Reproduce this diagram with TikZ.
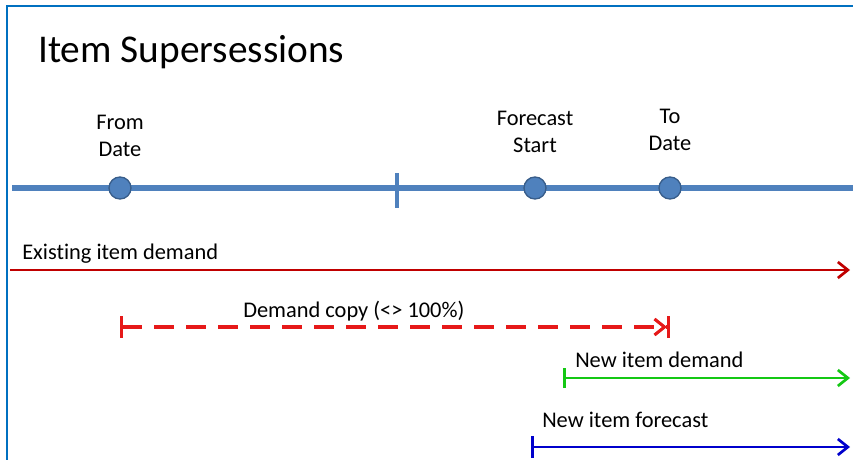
\documentclass[tikz,border=0pt]{standalone}
\usepackage{fontspec}
\setmainfont[Ligatures=NoCommon]{Carlito}
\usetikzlibrary{arrows.meta}
\definecolor{framebl}{RGB}{0,112,192}
\definecolor{tlblue}{RGB}{79,129,189}
\definecolor{tldark}{RGB}{56,93,138}
\definecolor{exred}{RGB}{192,0,0}
\definecolor{cpred}{RGB}{230,25,25}
\definecolor{nwgreen}{RGB}{20,200,20}
\definecolor{fcblue}{RGB}{0,0,204}

\begin{document}
\begin{tikzpicture}[x=.75pt,y=-.75pt,
    lbl/.style={font=\fontsize{16.8}{20.2}\selectfont,inner sep=0pt},
    datept/.style={circle,fill=tlblue,draw=tldark,line width=1pt,minimum size=16.5pt,inner sep=0pt},
    span/.style={line width=2pt},
    tip/.style={-{Straight Barb[length=7.5pt,width=12pt]}}]
    \useasboundingbox (0,0) rectangle (853,460);
    \fill[white] (0,0) rectangle (853,460);
    \draw[framebl,line width=1.5pt] (7,461) -- (7,6) -- (854,6);
    \node[font=\fontsize{29.5}{35}\selectfont,anchor=base west,inner sep=0pt] (title) at (38,63) {Item Supersessions};

    % timeline
    \coordinate (tlL) at (12,188); \coordinate (tlR) at (853,188);
    \draw[tlblue,line width=4.2pt] (tlL) -- (tlR);
    \coordinate (tickT) at (397,173); \coordinate (tickB) at (397,208);
    \draw[tlblue,line width=3pt] (tickT) -- (tickB);
    \node[datept] (from) at (120,188) {};
    \node[datept] (fcst) at (535,188) {};
    \node[datept] (to) at (670,188) {};
    \node[lbl,align=center,anchor=base] (fromlbl) at (120,156) {From\\Date};
    \node[lbl,align=center,anchor=base] (fcstlbl) at (535,152) {Forecast\\Start};
    \node[lbl,align=center,anchor=base] (tolbl) at (670,150) {To\\Date};

    % spans
    \coordinate (exL) at (10,270); \coordinate (exR) at (850,270);
    \draw[exred,span,tip] (exL) -- (exR);
    \node[lbl,anchor=base west] (exlbl) at (22,259) {Existing item demand};

    \coordinate (cpy) at (0,327);
    \draw[cpred,line width=2.3pt,dash pattern=on 15pt off 9pt,
      {Bar[width=16pt]}-{Straight Barb[length=7.5pt,width=12pt] Bar[width=16pt]}] (from |- cpy) -- (to |- cpy);
    \node[lbl,anchor=base west] (cplbl) at (243,317) {Demand copy (<> 100\%)};

    \coordinate (nwL) at (563,378); \coordinate (nwR) at (850,378);
    \draw[nwgreen,span,{Bar[width=15pt]}-{Straight Barb[length=7.5pt,width=12pt]}] (nwL) -- (nwR);
    \node[lbl,anchor=base west] (nwlbl) at (575,367) {New item demand};

    \coordinate (fcL) at (531,447); \coordinate (fcR) at (850,447);
    \draw[fcblue,span,{Bar[width=16pt]}-{Straight Barb[length=7.5pt,width=12pt]}] (fcL) -- (fcR);
    \node[lbl,anchor=base west] (fclbl) at (542,427) {New item forecast};
\end{tikzpicture}
\end{document}
